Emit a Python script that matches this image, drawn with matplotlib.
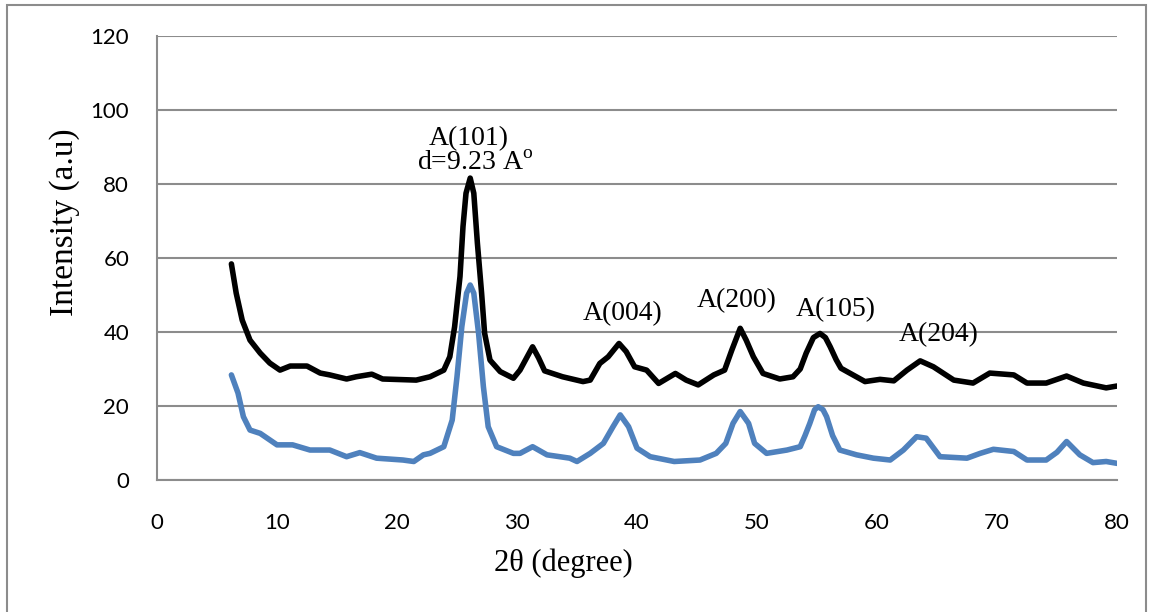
import matplotlib.pyplot as plt
from matplotlib.patches import Rectangle

plt.rcParams['mathtext.fontset'] = 'custom'
plt.rcParams['mathtext.rm'] = 'Liberation Serif'

# 2theta / intensity
x_black = [6.2, 6.6, 7.1, 7.75, 8.6, 9.4, 10.25, 11.1, 12.5, 13.6, 14.4, 15.8, 16.6, 17.9,
           18.8, 21.6, 22.75, 23.9, 24.4, 24.8, 25.25, 25.5, 25.75, 26.1, 26.4, 26.7, 27.05,
           27.3, 27.75, 28.6, 29.7, 30.25, 30.8, 31.3, 31.8, 32.3, 33.8, 35.5, 36.1, 36.9,
           37.6, 38.5, 39.1, 39.8, 40.8, 41.8, 43.2, 44.1, 45.1, 46.4, 47.3, 47.9, 48.6,
           49.1, 49.7, 50.5, 51.9, 53.0, 53.6, 54.1, 54.7, 55.25, 55.7, 56.1, 56.6, 57.0,
           58.0, 59.0, 60.25, 61.4, 62.5, 63.6, 64.7, 66.4, 68.0, 69.4, 71.4, 72.5, 74.1,
           75.8, 77.2, 79.1, 80.0]
y_black = [58.4, 50.5, 43.2, 37.8, 34.3, 31.6, 29.7, 30.8, 30.8, 28.9, 28.4, 27.3, 27.9, 28.6,
           27.3, 27.0, 27.9, 29.7, 33.3, 41.4, 55.0, 68.5, 77.5, 81.6, 77.5, 64.0, 50.5,
           39.7, 32.4, 29.3, 27.5, 29.7, 33.0, 36.0, 33.0, 29.5, 27.9, 26.6, 27.0, 31.5,
           33.3, 36.9, 34.7, 30.6, 29.7, 26.1, 28.8, 27.0, 25.7, 28.4, 29.7, 35.1, 41.0,
           37.8, 33.3, 28.8, 27.3, 27.9, 30.0, 34.3, 38.5, 39.6, 38.5, 36.0, 32.5, 30.2,
           28.4, 26.6, 27.2, 26.8, 29.7, 32.2, 30.6, 27.0, 26.2, 28.9, 28.4, 26.2, 26.2,
           28.1, 26.2, 24.9, 25.4]

x_blue = [6.2, 6.75, 7.2, 7.75, 8.6, 10.0, 11.3, 12.75, 14.4, 15.8, 16.9, 18.3, 20.5,
          21.4, 22.2, 22.75, 23.9, 24.6, 25.0, 25.4, 25.8, 26.1, 26.4, 26.8, 27.2, 27.6,
          28.3, 29.7, 30.25, 31.3, 32.5, 34.4, 35.0, 36.1, 37.2, 38.0, 38.6, 39.3, 40.0,
          41.1, 43.1, 45.25, 46.6, 47.4, 48.0, 48.6, 49.3, 49.8, 50.8, 52.5, 53.6, 54.0,
          54.4, 54.8, 55.1, 55.5, 55.8, 56.3, 56.9, 58.3, 59.7, 61.1, 62.2, 63.3, 64.1,
          65.25, 67.5, 68.6, 69.7, 71.4, 72.5, 74.1, 75.0, 75.8, 76.9, 78.0, 79.1, 80.0]
y_blue = [28.4, 23.5, 17.1, 13.5, 12.6, 9.5, 9.5, 8.1, 8.1, 6.3, 7.4, 5.9, 5.4,
          5.0, 6.8, 7.2, 9.0, 16.2, 27.9, 41.4, 50.5, 52.7, 50.5, 39.6, 25.2, 14.4,
          9.0, 7.2, 7.2, 9.0, 6.8, 5.9, 5.0, 7.2, 9.9, 14.4, 17.6, 14.4, 8.6,
          6.3, 5.0, 5.4, 7.2, 9.9, 15.3, 18.5, 15.3, 9.9, 7.2, 8.1, 9.0, 12.0,
          15.3, 19.0, 19.8, 19.0, 17.1, 12.0, 8.1, 6.8, 5.9, 5.4, 8.1, 11.7, 11.3,
          6.3, 5.9, 7.2, 8.3, 7.7, 5.4, 5.4, 7.5, 10.4, 6.8, 4.7, 5.0, 4.5]

# peak labels
peak_labels = ['A(004)', 'A(200)', 'A(105)', 'A(204)']
peak_x = [38.8, 48.3, 56.6, 65.1]
peak_y = [45.0, 48.6, 46.0, 39.2]

serif = ['Liberation Serif', 'DejaVu Serif']
sans = ['Lato', 'DejaVu Sans']

fig = plt.figure(figsize=(11.54, 6.12), dpi=100)
ax = fig.add_axes([157 / 1154, 1 - 480 / 612, 960 / 1154, 444 / 612])

ax.plot(x_black, y_black, color='black', lw=4, solid_joinstyle='round', solid_capstyle='round')
ax.plot(x_blue, y_blue, color='#4F81BD', lw=4, solid_joinstyle='round', solid_capstyle='round')

ax.set_xlim(0, 80)
ax.set_ylim(0, 120)
ax.set_xticks(range(0, 81, 10))
ax.set_yticks(range(0, 121, 20))
ax.grid(axis='y', color='#8c8c8c', lw=1.5)
ax.set_axisbelow(True)
for s in ['top', 'right']:
    ax.spines[s].set_visible(False)
for s in ['left', 'bottom']:
    ax.spines[s].set_color('#8c8c8c')
    ax.spines[s].set_linewidth(1.5)
ax.tick_params(length=0, labelsize=16)
ax.tick_params(axis='x', pad=24)
ax.tick_params(axis='y', pad=20)
for lab in ax.get_xticklabels() + ax.get_yticklabels():
    lab.set_family(sans)

ax.text(26.0, 92.4, 'A(101)', ha='center', va='center', fontsize=20, family=serif)
ax.text(26.5, 85.6, 'd=9.23 A$^{\\mathrm{o}}$', ha='center', va='center', fontsize=20, family=serif)
for lbl, px, py in zip(peak_labels, peak_x, peak_y):
    ax.text(px, py, lbl, ha='center', va='center', fontsize=20, family=serif)

fig.text(65 / 1154, 1 - 222 / 612, 'Intensity (a.u)', rotation=90, ha='center', va='center',
         fontsize=24, family=serif)
fig.text(563 / 1154, 1 - 563 / 612, '2θ (degree)', ha='center', va='center',
         fontsize=22, family=serif)

# outer frame
fig.patches.append(Rectangle((7 / 1154, -0.05), 1139 / 1154, 1 - 5 / 612 + 0.05,
                             transform=fig.transFigure, fill=False,
                             edgecolor='#8c8c8c', lw=1.5))

fig.savefig('out.png', dpi=100)
